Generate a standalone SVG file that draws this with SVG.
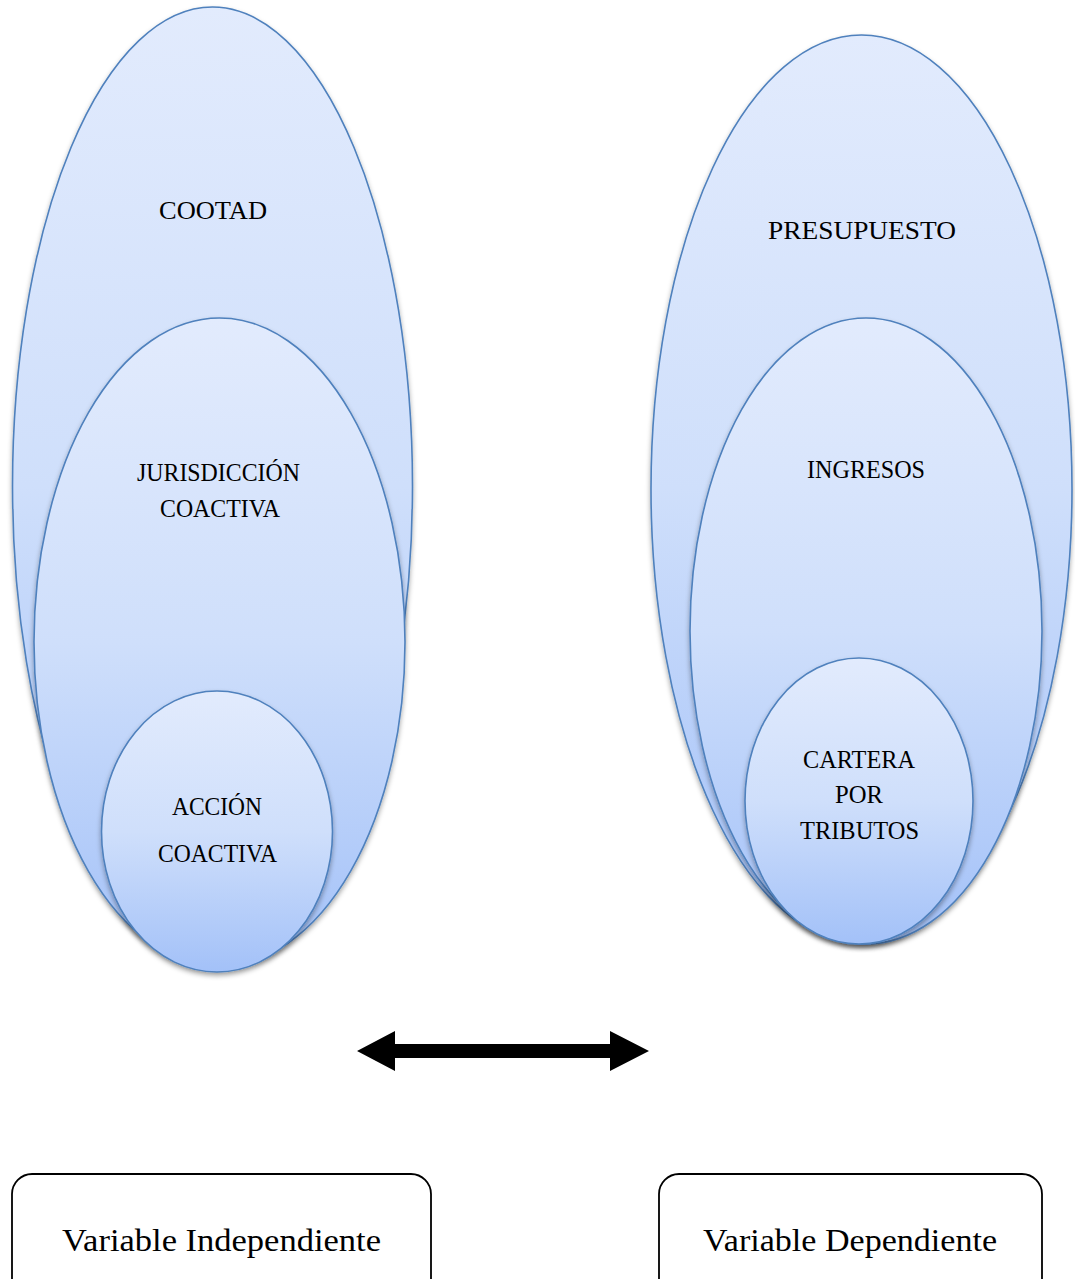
<svg xmlns="http://www.w3.org/2000/svg" width="1075" height="1279" viewBox="0 0 1075 1279">
<style>
.oval{fill:url(#g);stroke:#4f81bd;stroke-width:1.6;filter:url(#sh)}
.t{font-family:"Liberation Serif","Times New Roman",serif;font-size:26px;fill:#000;text-anchor:middle}
.bt{font-family:"Liberation Serif","Times New Roman",serif;font-size:31px;fill:#000;text-anchor:middle}
.box{fill:#fff;stroke:#000;stroke-width:1.8}
</style>
<defs>
<linearGradient id="g" x1="0" y1="0" x2="0" y2="1">
<stop offset="0" stop-color="#e2ebfd"/>
<stop offset="0.5" stop-color="#cfdffb"/>
<stop offset="1" stop-color="#a3c1f8"/>
</linearGradient>
<filter id="sh" x="-10%" y="-10%" width="120%" height="120%">
<feDropShadow dx="0" dy="3" stdDeviation="2.5" flood-color="#000" flood-opacity="0.35"/>
</filter>
</defs>
<g id="cootad"><ellipse class="oval" cx="212.5" cy="486" rx="200" ry="479"/><text class="t" x="213" y="219" textLength="108" lengthAdjust="spacingAndGlyphs">COOTAD</text></g>
<g id="jurisdiccion"><ellipse class="oval" cx="219.5" cy="642" rx="185.5" ry="324"/><text class="t" x="218.5" y="481" textLength="163" lengthAdjust="spacingAndGlyphs">JURISDICCIÓN</text><text class="t" x="220" y="517" textLength="120" lengthAdjust="spacingAndGlyphs">COACTIVA</text></g>
<g id="accion"><ellipse class="oval" cx="217" cy="831.5" rx="115.5" ry="140.5"/><text class="t" x="217" y="815" textLength="90" lengthAdjust="spacingAndGlyphs">ACCIÓN</text><text class="t" x="217.5" y="862" textLength="119" lengthAdjust="spacingAndGlyphs">COACTIVA</text></g>
<g id="presupuesto"><ellipse class="oval" cx="861.5" cy="489" rx="210.5" ry="454"/><text class="t" x="862" y="239" textLength="188" lengthAdjust="spacingAndGlyphs">PRESUPUESTO</text></g>
<g id="ingresos"><ellipse class="oval" cx="866" cy="631" rx="176" ry="313"/><text class="t" x="866" y="478" textLength="118" lengthAdjust="spacingAndGlyphs">INGRESOS</text></g>
<g id="cartera"><ellipse class="oval" cx="859" cy="801" rx="114" ry="143"/><text class="t" x="859" y="768" textLength="112" lengthAdjust="spacingAndGlyphs">CARTERA</text><text class="t" x="859" y="803" textLength="48" lengthAdjust="spacingAndGlyphs">POR</text><text class="t" x="859.5" y="839" textLength="119" lengthAdjust="spacingAndGlyphs">TRIBUTOS</text></g>
<g id="connectors"><polygon points="357,1051 395,1031 395,1044 610,1044 610,1031 649,1051 610,1071 610,1058 395,1058 395,1071" fill="#000"/></g>
<g id="var-independiente"><rect class="box" x="12" y="1174" width="419" height="130" rx="20"/><text class="bt" x="221.5" y="1251" textLength="319" lengthAdjust="spacingAndGlyphs">Variable Independiente</text></g>
<g id="var-dependiente"><rect class="box" x="659" y="1174" width="383" height="130" rx="20"/><text class="bt" x="850" y="1251" textLength="294" lengthAdjust="spacingAndGlyphs">Variable Dependiente</text></g>
</svg>
